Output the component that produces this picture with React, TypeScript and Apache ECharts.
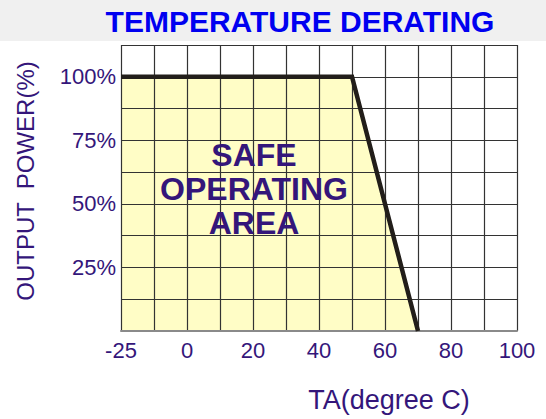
import React, { useEffect, useRef } from "react";
import * as echarts from "echarts";

// Temperature axis: -25..0 occupies two grid columns, then 10 °C per column
const tickTemps = [-25, 0, 20, 40, 60, 80, 100];
const curveTemps = [-25, 50, 70];
const curvePower = [100, 100, 0];
const powerTicks = [25, 50, 75, 100];

// map temperature to axis position (units of 10 per column)
const toPos = (t: number) => (t < 0 ? (t + 25) * 0.8 : t + 20);
const fromPos = (p: number) => (p < 20 ? p / 0.8 - 25 : p - 20);

const purple = "#34167a";

export default function App() {
  const ref = useRef<HTMLDivElement>(null);
  useEffect(() => {
    if (!ref.current) return;
    const chart = echarts.init(ref.current, null, { renderer: "svg" });
    const pts = curveTemps.map((t, i) => [toPos(t), curvePower[i]]);
    const tickPos = tickTemps.map(toPos);
    chart.setOption({
      animation: false,
      backgroundColor: "#ffffff",
      grid: { left: 121, top: 45, right: 29, bottom: 88 },
      xAxis: {
        type: "value",
        min: 0,
        max: 120,
        interval: 10,
        z: 2,
        axisLine: { show: true, lineStyle: { color: "#8a8a8a", width: 2 } },
        axisTick: { show: false },
        axisLabel: {
          color: purple,
          fontSize: 22,
          fontFamily: "Liberation Sans, Arial, sans-serif",
          margin: 8,
          showMinLabel: true,
          showMaxLabel: true,
          formatter: (v: number) =>
            tickPos.some((p) => Math.abs(p - v) < 1e-6) ? String(Math.round(fromPos(v))) : "",
        },
        splitLine: { show: true, lineStyle: { color: "#333333", width: 1.2 } },
      },
      yAxis: {
        type: "value",
        min: 0,
        max: 112.5,
        interval: 12.5,
        z: 2,
        axisLine: { show: false },
        axisTick: { show: false },
        axisLabel: {
          color: purple,
          fontSize: 22,
          fontFamily: "Liberation Sans, Arial, sans-serif",
          margin: 5,
          formatter: (v: number) => (powerTicks.includes(v) ? v + "%" : ""),
        },
        splitLine: { show: true, lineStyle: { color: "#333333", width: 1.2 } },
      },
      series: [
        {
          type: "line",
          data: pts,
          z: 1,
          symbol: "none",
          lineStyle: { width: 0, opacity: 0 },
          areaStyle: { color: "#fffdc6", opacity: 1, origin: "start" },
          silent: true,
        },
        {
          type: "line",
          data: pts,
          z: 5,
          symbol: "none",
          lineStyle: { width: 4.5, color: "#221e1a", cap: "butt", join: "miter" },
        },
      ],
      graphic: [
        {
          type: "rect",
          z: -10,
          shape: { x: 0, y: 0, width: 546, height: 41 },
          style: { fill: "#f0f0f0" },
        },
        {
          type: "text",
          x: 300,
          y: 21,
          style: {
            text: "TEMPERATURE DERATING",
            fill: "#0000f0",
            font: "bold 30px 'Liberation Sans', Arial, sans-serif",
            align: "center",
            verticalAlign: "middle",
          },
        },
        {
          type: "text",
          x: 254,
          y: 189,
          z: 10,
          style: {
            text: "SAFE\nOPERATING\nAREA",
            fill: purple,
            font: "bold 32px 'Liberation Sans', Arial, sans-serif",
            lineHeight: 34,
            align: "center",
            verticalAlign: "middle",
          },
        },
        {
          type: "text",
          x: 389,
          y: 400,
          style: {
            text: "TA(degree C)",
            fill: purple,
            font: "27px 'Liberation Sans', Arial, sans-serif",
            align: "center",
            verticalAlign: "middle",
          },
        },
        {
          type: "text",
          x: 25,
          y: 181,
          rotation: Math.PI / 2,
          style: {
            text: "OUTPUT  POWER(%)",
            fill: purple,
            font: "24px 'Liberation Sans', Arial, sans-serif",
            align: "center",
            verticalAlign: "middle",
          },
        },
      ],
    });
    return () => chart.dispose();
  }, []);
  return (
    <div
      ref={ref}
      style={{ position: "absolute", left: 0, top: 0, width: 546, height: 419 }}
    />
  );
}
